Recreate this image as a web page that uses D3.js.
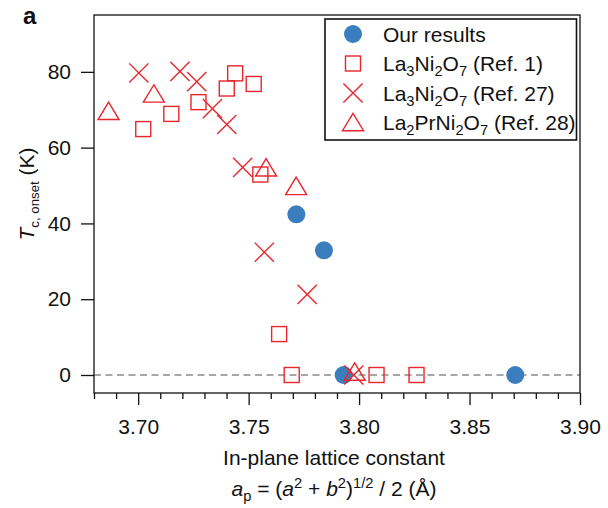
<!DOCTYPE html>
<html>
<head>
<meta charset="utf-8">
<script src="https://cdn.jsdelivr.net/npm/d3@7"></script>
<style>
  html, body { margin: 0; padding: 0; background: #fff; }
  text { font-family: "Liberation Sans", Arial, Helvetica, sans-serif; fill: #111; }
</style>
</head>
<body>
<svg id="chart" width="608" height="508"></svg>
<script>
// ---- data: in-plane lattice constant a_p (Å) vs Tc onset (K) ----
const ourX   = [3.7716, 3.7841, 3.7930, 3.8707];
const ourTc  = [42.4, 32.9, 0, 0];

const ref1X  = [3.7023, 3.7150, 3.7273, 3.7401, 3.7439, 3.7523, 3.7553, 3.7638, 3.7695, 3.8079, 3.8260];
const ref1Tc = [64.9, 68.9, 72.0, 75.6, 79.6, 76.8, 52.9, 10.8, 0, 0, 0];

const ref27X  = [3.7003, 3.7189, 3.7265, 3.7336, 3.7401, 3.7473, 3.7571, 3.7765, 3.7976];
const ref27Tc = [79.7, 80.1, 77.4, 70.3, 66.1, 54.8, 32.4, 21.3, 0];

const ref28X  = [3.6866, 3.7071, 3.7579, 3.7715, 3.7980];
const ref28Tc = [69.7, 74.3, 54.8, 49.9, 0.9];

const xMajorTicks = [3.70, 3.75, 3.80, 3.85, 3.90];
const xMinorTicks = [3.68, 3.69, 3.71, 3.72, 3.73, 3.74, 3.76, 3.77, 3.78, 3.79, 3.81, 3.82, 3.83, 3.84, 3.86, 3.87, 3.88, 3.89];
const yTicks = [0, 20, 40, 60, 80];

// rich-text labels: [text, style] with style "" | "i" | "sub" | "sup"
const legendLabels = [
  [["Our results", ""]],
  [["La", ""], ["3", "sub"], ["Ni", ""], ["2", "sub"], ["O", ""], ["7", "sub"], [" (Ref. 1)", ""]],
  [["La", ""], ["3", "sub"], ["Ni", ""], ["2", "sub"], ["O", ""], ["7", "sub"], [" (Ref. 27)", ""]],
  [["La", ""], ["2", "sub"], ["PrNi", ""], ["2", "sub"], ["O", ""], ["7", "sub"], [" (Ref. 28)", ""]]
];
const yTitle = [["T", "i"], ["c, onset", "sub"], [" (K)", ""]];
const xTitle1 = [["In-plane lattice constant", ""]];
const xTitle2 = [["a", "i"], ["p", "sub"], [" = (", ""], ["a", "i"], ["2", "sup"], [" + ", ""], ["b", "i"], ["2", "sup"], [")", ""], ["1/2", "sup"], [" / 2 (Å)", ""]];
const panelLabel = "a";

// ---- styling ----
const BLUE = "#3a7ebf";
const RED = "#e8262b";
const FONT = 21;

const svg = d3.select("#chart");
const plot = { left: 94, right: 580, top: 15, bottom: 393 };

const x = d3.scaleLinear().domain([3.68, 3.90]).range([plot.left, plot.right]);
const y = d3.scaleLinear().domain([-4.75, 95]).range([plot.bottom, plot.top]);

// rich text helper: italic, subscript and superscript runs
function richText(textSel, segs, size, subScale = 0.7) {
  let shift = 0;
  segs.forEach(([t, s]) => {
    const target = s === "sub" ? size * 0.26 : s === "sup" ? -size * 0.38 : 0;
    const ts = textSel.append("tspan").text(t).attr("dy", target - shift);
    shift = target;
    if (s === "sub" || s === "sup") ts.attr("font-size", size * subScale);
    if (s === "i") ts.attr("font-style", "italic");
  });
  return textSel;
}

// ---- zero reference line ----
svg.append("line")
  .attr("x1", plot.left).attr("x2", plot.right)
  .attr("y1", y(0)).attr("y2", y(0))
  .attr("stroke", "#8a8a8a").attr("stroke-width", 1.3)
  .attr("stroke-dasharray", "7,4.5");

// ---- marker shapes ----
const crossPath = "M-9.6,-9.6L9.6,9.6M-9.6,9.6L9.6,-9.6";
const triPath = "M0,-8.7L10.5,8.7L-10.5,8.7Z";

function drawCircles(g, xs, ys) {
  g.selectAll(null).data(xs).join("circle")
    .attr("cx", d => x(d)).attr("cy", (d, i) => y(ys[i]))
    .attr("r", 9).attr("fill", BLUE);
}
function drawSquares(g, xs, ys) {
  g.selectAll(null).data(xs).join("rect")
    .attr("x", d => x(d) - 7.5).attr("y", (d, i) => y(ys[i]) - 7.5)
    .attr("width", 15).attr("height", 15)
    .attr("fill", "none").attr("stroke", RED).attr("stroke-width", 1.4);
}
function drawPaths(g, xs, ys, p) {
  g.selectAll(null).data(xs).join("path")
    .attr("d", p)
    .attr("transform", (d, i) => `translate(${x(d)},${y(ys[i])})`)
    .attr("fill", "none").attr("stroke", RED).attr("stroke-width", 1.4);
}

const marks = svg.append("g");
drawCircles(marks.append("g"), ourX, ourTc);
drawSquares(marks.append("g"), ref1X, ref1Tc);
drawPaths(marks.append("g"), ref27X, ref27Tc, crossPath);
drawPaths(marks.append("g"), ref28X, ref28Tc, triPath);

// ---- axes ----
const xAxisMinor = d3.axisBottom(x).tickValues(xMinorTicks).tickSize(6).tickFormat("").tickSizeOuter(0);
const xAxisMajor = d3.axisBottom(x).tickValues(xMajorTicks).tickSize(12).tickPadding(14)
  .tickFormat(d3.format(".2f")).tickSizeOuter(0);
const yAxis = d3.axisLeft(y).tickValues(yTicks).tickSize(13).tickPadding(10).tickSizeOuter(0);

function styleAxis(g) {
  g.select(".domain").remove();
  g.selectAll("line").attr("stroke", "#111").attr("stroke-width", 1.3);
  g.selectAll("text").attr("font-size", FONT).attr("fill", "#111")
    .attr("font-family", "\"Liberation Sans\", Arial, sans-serif");
}
svg.append("g").attr("transform", `translate(0,${plot.bottom})`).call(xAxisMinor).call(styleAxis);
svg.append("g").attr("transform", `translate(0,${plot.bottom})`).call(xAxisMajor).call(styleAxis);
svg.append("g").attr("transform", `translate(${plot.left},0)`).call(yAxis).call(styleAxis);

// frame
svg.append("rect")
  .attr("x", plot.left).attr("y", plot.top)
  .attr("width", plot.right - plot.left).attr("height", plot.bottom - plot.top)
  .attr("fill", "none").attr("stroke", "#111").attr("stroke-width", 1.3);

// ---- legend ----
const leg = svg.append("g");
leg.append("rect")
  .attr("x", 325).attr("y", 19).attr("width", 251.5).attr("height", 121)
  .attr("fill", "#fff").attr("stroke", "#111").attr("stroke-width", 1.6);
const rowY = [34, 63.5, 93, 122];
const mx = 353;
leg.append("circle").attr("cx", mx).attr("cy", rowY[0]).attr("r", 9).attr("fill", BLUE);
leg.append("rect").attr("x", mx - 7.5).attr("y", rowY[1] - 7.5).attr("width", 15).attr("height", 15)
  .attr("fill", "none").attr("stroke", RED).attr("stroke-width", 1.4);
leg.append("path").attr("d", crossPath).attr("transform", `translate(${mx},${rowY[2]})`)
  .attr("fill", "none").attr("stroke", RED).attr("stroke-width", 1.4);
leg.append("path").attr("d", triPath).attr("transform", `translate(${mx},${rowY[3]})`)
  .attr("fill", "none").attr("stroke", RED).attr("stroke-width", 1.4);
legendLabels.forEach((segs, i) => {
  richText(leg.append("text").attr("x", 383).attr("y", rowY[i] + 7.5).attr("font-size", FONT), segs, FONT);
});

// ---- titles ----
richText(svg.append("text").attr("x", 334).attr("y", 465).attr("text-anchor", "middle").attr("font-size", FONT), xTitle1, FONT);
richText(svg.append("text").attr("x", 334).attr("y", 496).attr("text-anchor", "middle").attr("font-size", FONT), xTitle2, FONT);
richText(svg.append("text").attr("transform", "translate(34,194) rotate(-90)")
  .attr("text-anchor", "middle").attr("font-size", FONT), yTitle, FONT, 0.63);

svg.append("text").attr("x", 23).attr("y", 24).attr("font-size", 24)
  .attr("font-weight", "bold").text(panelLabel);
</script>
</body>
</html>
